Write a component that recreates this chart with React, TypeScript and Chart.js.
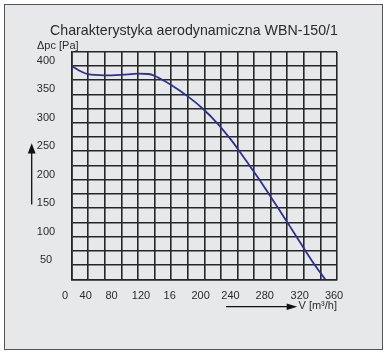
import React, { useEffect, useRef } from 'react';
import { Chart, registerables } from 'chart.js';

Chart.register(...registerables);

// Curve: flow V [m3/h] vs pressure Δpc [Pa]
const flowValues = [0, 10, 22, 45, 68, 90, 104, 113, 135, 158, 178.4, 197.6, 213.9, 228.1, 241.7, 255, 267.8, 280.3, 292.9, 305.1, 317.3, 329.8, 344];
const pressureValues = [391, 383, 376.5, 374.5, 375.5, 377.3, 376.8, 373.3, 357.5, 337, 315.3, 290.2, 264.9, 240.3, 215.1, 190.5, 165.4, 140.8, 115.5, 90.9, 65.7, 41.1, 16];

// Printed tick labels (as in the picture, including the "16")
const xTickLabels = ['0', '40', '80', '120', '16', '200', '240', '280', '320', '360'];
const xTickValues = [-9, 19, 54, 94, 133, 175, 215.5, 262, 309.5, 356];
const yTickValues = [50, 100, 150, 200, 250, 300, 350, 400];

const X_MIN = 0;
const X_MAX = 360;
const X_GRID_STEP = 22.5;
const Y_MIN = 16;
const Y_MAX = 416;
const Y_GRID_STEP = 25;

const TEXT = '#2b2b2b';
const GRID = '#262626';

export default function App() {
  const ref = useRef<HTMLCanvasElement | null>(null);

  useEffect(() => {
    if (!ref.current) return;
    Chart.defaults.font.family = "'Liberation Sans', Arial, Helvetica, sans-serif";
    Chart.defaults.color = TEXT;

    const xGrid: number[] = [];
    for (let v = X_MIN; v <= X_MAX + 1e-9; v += X_GRID_STEP) xGrid.push(v);
    const yGrid: number[] = [];
    for (let v = Y_MIN; v <= Y_MAX + 1e-9; v += Y_GRID_STEP) yGrid.push(v);

    const chart = new Chart(ref.current, {
      type: 'line',
      data: {
        datasets: [
          {
            data: flowValues.map((x, i) => ({ x, y: pressureValues[i] })),
            borderColor: '#2e3192',
            borderWidth: 1.8,
            pointRadius: 0,
            fill: false,
            cubicInterpolationMode: 'monotone',
            xAxisID: 'x',
            yAxisID: 'y',
          },
        ],
      },
      options: {
        animation: false,
        responsive: false,
        events: [],
        layout: { padding: { left: 37, right: 37, top: 0, bottom: 41.4 } },
        plugins: {
          legend: { display: false },
          tooltip: { enabled: false },
          title: {
            display: true,
            text: 'Charakterystyka aerodynamiczna WBN-150/1',
            color: TEXT,
            font: { size: 14.2, weight: 'normal', lineHeight: 1 },
            padding: { top: 24.4, bottom: 0 },
          },
          subtitle: {
            display: true,
            text: 'Δpc [Pa]',
            align: 'start',
            color: TEXT,
            font: { size: 11, weight: 'normal', lineHeight: 1 },
            padding: { top: 1.9, bottom: 0.2 },
          },
        },
        scales: {
          x: {
            type: 'linear',
            position: 'bottom',
            min: X_MIN,
            max: X_MAX,
            afterBuildTicks: (s: any) => {
              s.ticks = xGrid.map((v) => ({ value: v }));
            },
            afterFit: (s: any) => {
              s.height = 0;
            },
            ticks: { display: false },
            grid: { display: true, color: GRID, lineWidth: 1.6, drawTicks: false },
            border: { display: true, color: GRID, width: 1.6 },
          },
          xl: {
            type: 'linear',
            position: 'bottom',
            min: X_MIN,
            max: X_MAX,
            afterBuildTicks: (s: any) => {
              s.ticks = xTickValues.map((v) => ({ value: v }));
            },
            afterFit: (s: any) => {
              s.height = 33.3;
            },
            ticks: {
              autoSkip: false,
              maxRotation: 0,
              minRotation: 0,
              padding: 2.1,
              color: TEXT,
              font: { size: 11 },
              callback: (_v: any, i: number) => xTickLabels[i],
            },
            grid: { display: false },
            border: { display: false },
            title: {
              display: true,
              text: 'V [m³/h]',
              align: 'end',
              color: TEXT,
              font: { size: 11 },
              padding: { top: 0, bottom: 0 },
            },
          },
          y: {
            type: 'linear',
            position: 'left',
            min: Y_MIN,
            max: Y_MAX,
            afterBuildTicks: (s: any) => {
              s.ticks = yGrid.map((v) => ({ value: v }));
            },
            afterFit: (s: any) => {
              s.width = 0;
            },
            ticks: { display: false },
            grid: { display: true, color: GRID, lineWidth: 1.6, drawTicks: false },
            border: { display: true, color: GRID, width: 1.6 },
          },
          yl: {
            type: 'linear',
            position: 'left',
            min: Y_MIN,
            max: Y_MAX,
            afterBuildTicks: (s: any) => {
              s.ticks = yTickValues.map((v) => ({ value: v }));
            },
            afterFit: (s: any) => {
              s.width = 34.7;
            },
            ticks: {
              autoSkip: false,
              padding: 8.5,
              crossAlign: 'center',
              color: TEXT,
              font: { size: 11 },
              callback: (v: any) => String(v),
            },
            grid: { display: false },
            border: { display: false },
          },
          yr: {
            type: 'linear',
            position: 'right',
            min: 0,
            max: 1,
            afterFit: (s: any) => {
              s.width = 14;
            },
            ticks: { display: false },
            grid: { display: false },
            border: { display: false },
          },
        },
      } as any,
    });
    return () => chart.destroy();
  }, []);

  return (
    <div style={{ position: 'fixed', left: 0, top: 0, width: 388, height: 354, background: '#ffffff' }}>
      <div
        style={{
          position: 'absolute',
          left: 3.5,
          top: 3.5,
          width: 379.5,
          height: 346,
          boxSizing: 'border-box',
          border: '1.5px solid #555555',
          background: '#e7e8e9',
        }}
      />
      <svg
        width={388}
        height={354}
        style={{ position: 'absolute', left: 0, top: 0 }}
      >
        <line x1={31.7} y1={152} x2={31.7} y2={204.5} stroke="#111" strokeWidth={1.3} />
        <polygon points="31.7,143.3 27.8,153.5 35.6,153.5" fill="#111" />
        <line x1={226} y1={306.7} x2={288} y2={306.7} stroke="#111" strokeWidth={1.3} />
        <polygon points="297.3,306.7 286.7,303.5 286.7,309.9" fill="#111" />
      </svg>
      <canvas
        ref={ref}
        width={388}
        height={354}
        style={{ position: 'absolute', left: 0, top: 0, width: 388, height: 354 }}
      />
    </div>
  );
}
